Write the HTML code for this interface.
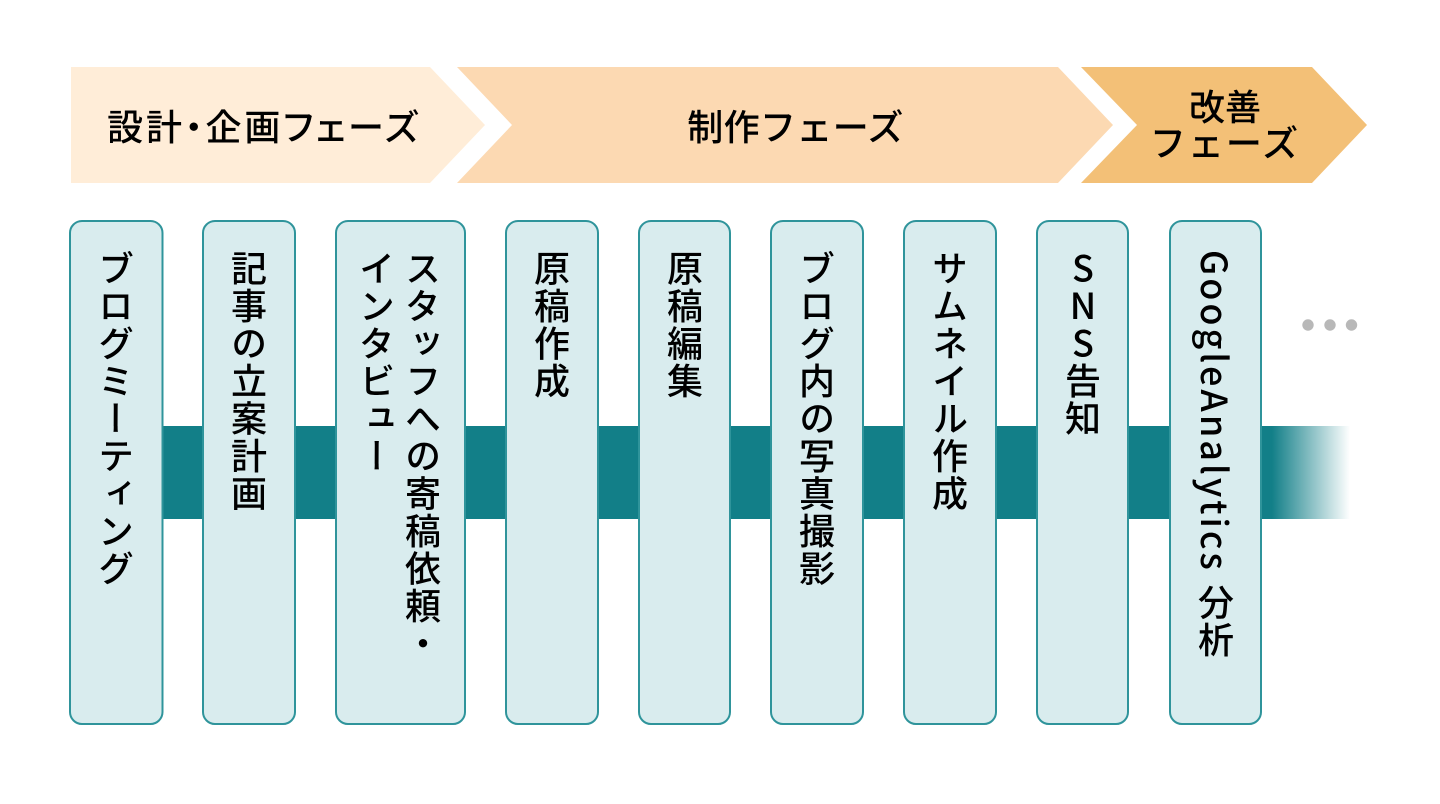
<!DOCTYPE html>
<html lang="ja">
<head>
<meta charset="utf-8">
<title>ブログ制作フロー</title>
<style>
html,body{margin:0;padding:0;background:#fff;}
#c{position:relative;width:1440px;height:804px;overflow:hidden;background:#fff;font-family:"Liberation Sans","Noto Sans CJK JP",sans-serif;color:#000;filter:blur(.35px);}
#c svg{position:absolute;left:0;top:0;}
.h{position:absolute;font-family:"Noto Sans CJK JP",sans-serif;font-size:36px;line-height:36px;font-weight:500;white-space:nowrap;text-align:center;color:#000;}
.v{position:absolute;top:250px;height:470px;writing-mode:vertical-rl;font-family:"Noto Sans CJK JP",sans-serif;font-size:36px;line-height:46px;letter-spacing:1.5px;font-weight:500;white-space:nowrap;color:#000;text-align:left;}
</style>
</head>
<body>
<div id="c">
<svg width="1440" height="804" viewBox="0 0 1440 804" xmlns="http://www.w3.org/2000/svg">
<defs>
<linearGradient id="g" x1="0" x2="1" y1="0" y2="0">
<stop offset="0" stop-color="#127f88"/>
<stop offset="1" stop-color="#127f88" stop-opacity="0"/>
</linearGradient>
</defs>
<polygon points="71,67 430,67 485,125 430,183 71,183" fill="#ffedd8"/>
<polygon points="457,67 1058,67 1113,125 1058,183 457,183 512,125" fill="#fcd9b2"/>
<polygon points="1081,67 1312,67 1367,125 1312,183 1081,183 1137,125" fill="#f3c077"/>
<rect x="160" y="426" width="1112" height="93" fill="#127f88"/>
<rect x="1272" y="426" width="78" height="93" fill="url(#g)"/>
<g fill="#d9ecee" stroke="#2f949b" stroke-width="2">
<rect x="70" y="221" width="92.500" height="503" rx="12"/>
<rect x="203" y="221" width="92" height="503" rx="12"/>
<rect x="336" y="221" width="129" height="503" rx="12"/>
<rect x="506" y="221" width="92" height="503" rx="12"/>
<rect x="639" y="221" width="91" height="503" rx="12"/>
<rect x="771" y="221" width="92" height="503" rx="12"/>
<rect x="904" y="221" width="92" height="503" rx="12"/>
<rect x="1037" y="221" width="91" height="503" rx="12"/>
<rect x="1170" y="221" width="91" height="503" rx="12"/>
</g>
<g fill="#b8b8b8">
<circle cx="1308" cy="325" r="5.700"/>
<circle cx="1330" cy="325" r="5.700"/>
<circle cx="1351.500" cy="325" r="5.700"/>
</g>
</svg>
<div class="h" style="left:72px;top:107px;width:384px;font-feature-settings:'palt';letter-spacing:2.8px;">設計・企画フェーズ</div>
<div class="h" style="left:595px;top:107px;width:401px;letter-spacing:.4px;">制作フェーズ</div>
<div class="h" style="left:1125px;top:87px;width:200px;">改善</div>
<div class="h" style="left:1125px;top:123px;width:200px;letter-spacing:2px;">フェーズ</div>
<div class="v" style="left:93px;">ブログミーティング</div>
<div class="v" style="left:226px;">記事の立案計画</div>
<div class="v" style="left:354px;">スタッフへの寄稿依頼・<br>インタビュー</div>
<div class="v" style="left:529px;">原稿作成</div>
<div class="v" style="left:662px;">原稿編集</div>
<div class="v" style="left:794px;">ブログ内の写真撮影</div>
<div class="v" style="left:927px;">サムネイル作成</div>
<div class="v" style="left:1060px;text-orientation:upright;">SNS告知</div>
<div class="v" style="left:1193px;"><span style="letter-spacing:3px;">GoogleAnalytics </span>分析</div>
</div>
</body>
</html>
